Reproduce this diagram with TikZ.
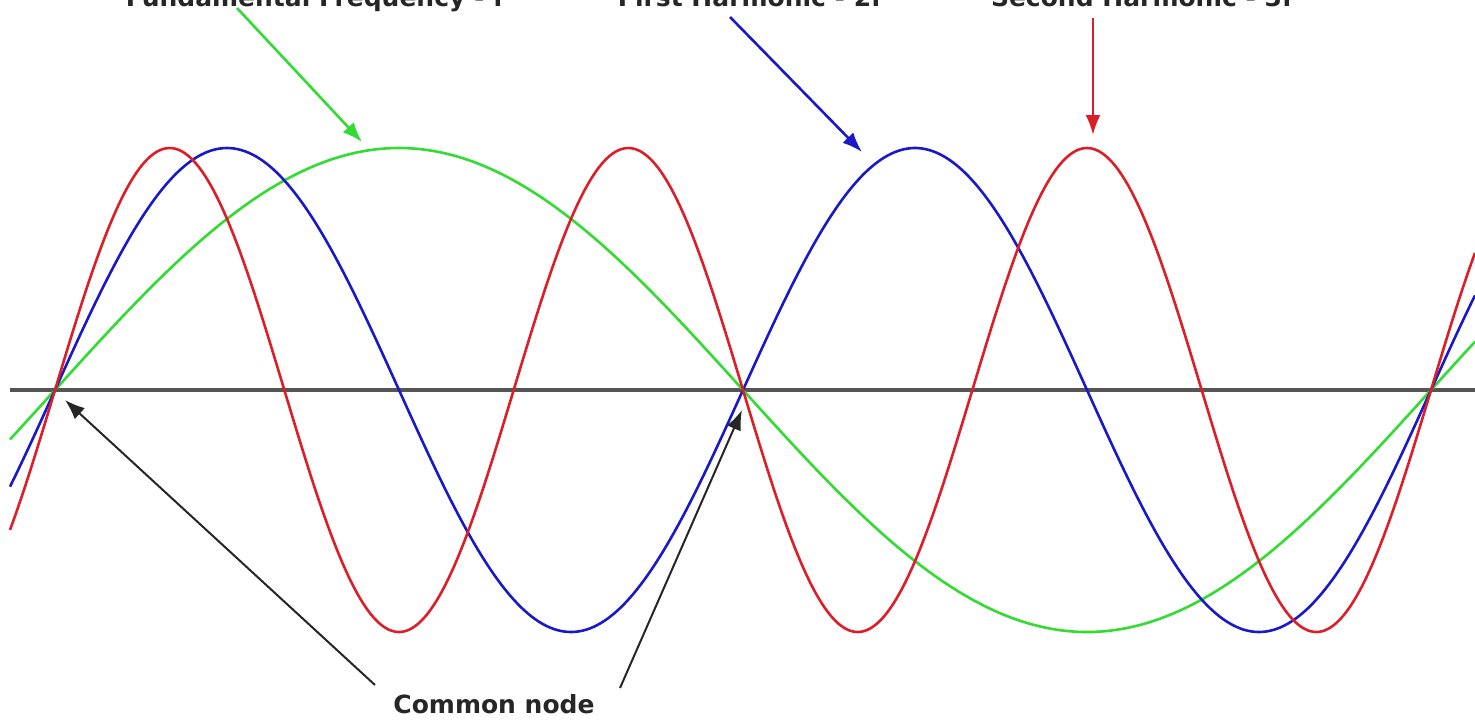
\documentclass[tikz,border=0pt]{standalone}
\usepackage{fontspec}
\setmainfont{DejaVu Sans}
\usetikzlibrary{arrows.meta}
\definecolor{wgreen}{RGB}{50,220,50}
\definecolor{wblue}{RGB}{25,25,200}
\definecolor{wred}{RGB}{220,30,40}
\definecolor{waxis}{RGB}{85,85,85}
\tikzset{
  wave/.style={line width=2.6pt},
  lbl/.style={font=\bfseries\fontsize{25}{30}\selectfont, text=black!85, inner sep=0pt},
  ptr/.style={line width=2.6pt, -{Latex[length=20pt,width=15pt]}},
}
\begin{document}
\begin{tikzpicture}[x=1pt,y=-1pt]
\fill[white] (0,0) rectangle (1475,721);
\useasboundingbox (0,0) rectangle (1475,721);
% axis
\draw[waxis, line width=3.5pt] (10,390) -- (1475,390);
% waves
\draw[wave, wgreen] plot[domain=10:1475, samples=300, smooth] (\x, {390-242*sin(0.261628*(\x-55))});
\draw[wave, wblue] plot[domain=10:1475, samples=400, smooth] (\x, {390-242*sin(0.523256*(\x-55))});
\draw[wave, wred] plot[domain=10:1475, samples=500, smooth] (\x, {390-242*sin(0.784884*(\x-55))});
% labels
\node[lbl, anchor=base] (fund) at (315,6) {Fundamental Frequency - f};
\node[lbl, anchor=base] (first) at (750,6) {First Harmonic - 2f};
\node[lbl, anchor=base] (second) at (1142,6) {Second Harmonic - 3f};
\node[lbl, anchor=base] (common) at (494,713) {Common node};
% connector ends
\coordinate (gs) at (237,8);
\coordinate (gt) at (362,142);
\coordinate (bs) at (730,17);
\coordinate (bt) at (862,152);
\coordinate (rs) at (1093,18);
\coordinate (rt) at (1093,135);
\coordinate (n1) at (65,400);
\coordinate (n2) at (742,410);
\coordinate (c1) at (375,685);
\coordinate (c2) at (620,688);
% arrows
\draw[ptr, wgreen] (gs) -- (gt);
\draw[ptr, wblue] (bs) -- (bt);
\draw[ptr, wred] (rs) -- (rt);
\draw[ptr, black!85, line width=2pt] (c1) -- (n1);
\draw[ptr, black!85, line width=2pt] (c2) -- (n2);
\end{tikzpicture}
\end{document}
